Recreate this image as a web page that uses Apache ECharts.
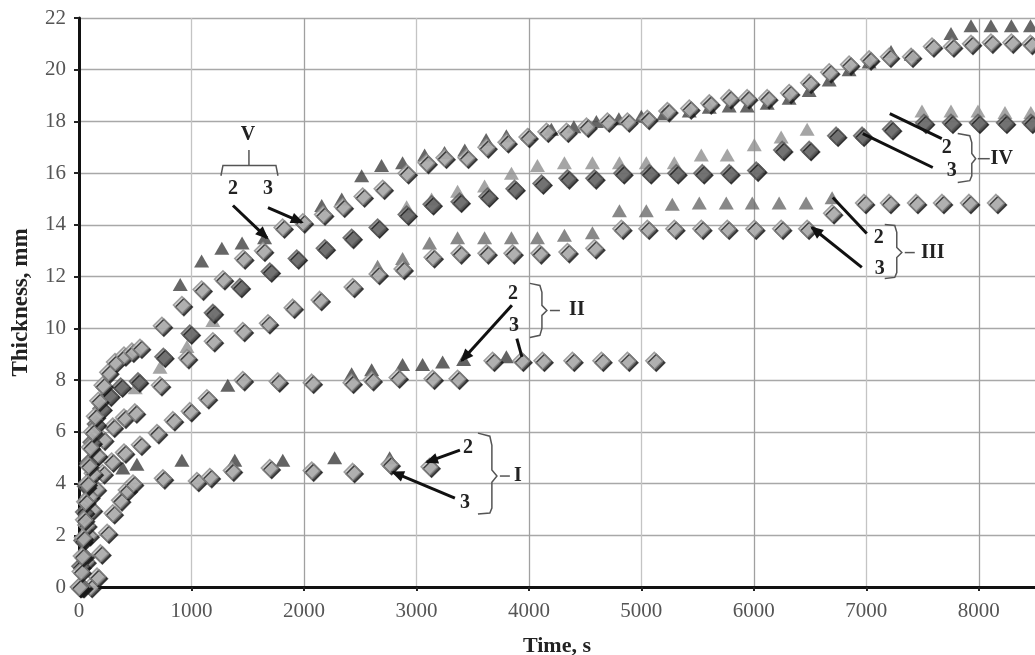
<!DOCTYPE html>
<html><head><meta charset="utf-8">
<script src="https://cdn.jsdelivr.net/npm/echarts@6/dist/echarts.min.js"></script>
<style>html,body{margin:0;padding:0;background:#fff}#c{width:1035px;height:655px}</style>
</head><body><div id="c"></div>
<script>
// ---- tick labels ----
const xTickValues = [0,1000,2000,3000,4000,5000,6000,7000,8000];
const yTickValues = [0,2,4,6,8,10,12,14,16,18,20,22];

// ---- data series [time s, thickness mm] ----
const vDiamonds = [[0,0],[15,0.6],[25,1.2],[35,1.9],[45,2.6],[55,3.3],[68,4.0],[82,4.7],[98,5.4],[118,6.0],[142,6.6],[172,7.2],[210,7.8],[260,8.3],[320,8.7],[400,8.95],[470,9.1],[542,9.25],[737,10.1],[915,10.9],[1090,11.5],[1280,11.9],[1460,12.7],[1636,13.0],[1810,13.9],[1990,14.1],[2170,14.4],[2345,14.7],[2522,15.1],[2700,15.4],[2913,16.0],[3090,16.4],[3250,16.6],[3446,16.6],[3623,17.0],[3801,17.2],[3988,17.4],[4156,17.6],[4334,17.6],[4512,17.8],[4698,18.0],[4876,18.0],[5053,18.1],[5231,18.4],[5426,18.5],[5604,18.7],[5781,18.9],[5941,18.9],[6119,18.9],[6314,19.1],[6492,19.5],[6670,19.9],[6847,20.2],[7025,20.4],[7202,20.5],[7398,20.5],[7584,20.9],[7762,20.9],[7931,21.0],[8108,21.05],[8290,21.05],[8460,21.0]];
const vTriangles = [[900,11.7],[1090,12.6],[1270,13.1],[1450,13.3],[1650,13.5],[2158,14.75],[2336,15.0],[2513,15.9],[2690,16.3],[2877,16.4],[3073,16.7],[3250,16.8],[3430,16.9],[3620,17.3],[3800,17.45],[4000,17.5],[4200,17.7],[4400,17.8],[4600,18.0],[4800,18.1],[5000,18.2],[5200,18.3],[5426,18.4],[5604,18.55],[5781,18.6],[5941,18.6],[6119,18.7],[6314,18.9],[6492,19.2],[6670,19.6],[6847,20.0],[7025,20.3],[7220,20.7],[7400,20.6],[7753,21.4],[7931,21.7],[8108,21.7],[8290,21.7],[8460,21.7]];
const ivDiamonds = [[0,0],[12,0.8],[30,1.8],[45,2.9],[62,3.9],[85,4.8],[112,5.6],[150,6.3],[200,6.9],[270,7.4],[370,7.75],[524,7.95],[750,8.9],[985,9.8],[1190,10.6],[1430,11.6],[1696,12.2],[1936,12.7],[2185,13.1],[2424,13.5],[2655,13.9],[2913,14.4],[3135,14.8],[3384,14.9],[3632,15.1],[3872,15.4],[4112,15.6],[4343,15.8],[4582,15.8],[4831,16.0],[5071,16.0],[5311,16.0],[5542,16.0],[5782,16.0],[6021,16.1],[6252,16.9],[6492,16.9],[6732,17.45],[6963,17.45],[7220,17.7],[7513,17.95],[7753,17.95],[7993,17.95],[8233,17.95],[8463,17.95]];
const ivTriangles = [[500,7.7],[720,8.5],[960,9.3],[1190,10.3],[2913,14.7],[3135,15.0],[3366,15.3],[3606,15.5],[3845,16.0],[4076,16.3],[4316,16.4],[4565,16.4],[4805,16.4],[5044,16.4],[5293,16.4],[5533,16.7],[5764,16.7],[6004,17.1],[6243,17.4],[6474,17.7],[7495,18.4],[7753,18.4],[7993,18.4],[8233,18.35],[8463,18.35]];
const iiiDiamonds = [[20,0],[42,1.2],[65,2.4],[92,3.5],[122,4.4],[160,5.1],[215,5.7],[300,6.2],[400,6.55],[497,6.75],[720,7.8],[960,8.85],[1190,9.5],[1456,9.9],[1680,10.2],[1900,10.8],[2140,11.1],[2433,11.6],[2655,12.1],[2877,12.3],[3144,12.75],[3384,12.9],[3623,12.9],[3854,12.9],[4094,12.9],[4343,12.95],[4582,13.1],[4822,13.85],[5053,13.85],[5293,13.85],[5533,13.85],[5764,13.85],[6004,13.85],[6243,13.85],[6474,13.85],[6696,14.45],[6980,14.85],[7202,14.85],[7442,14.85],[7673,14.85],[7913,14.85],[8153,14.85]];
const iiiTriangles = [[2655,12.4],[2877,12.7],[3117,13.3],[3366,13.5],[3606,13.5],[3845,13.5],[4076,13.5],[4316,13.6],[4565,13.7],[4805,14.55],[5044,14.55],[5275,14.8],[5515,14.85],[5755,14.85],[5986,14.85],[6225,14.85],[6465,14.85],[6696,15.05]];
const iiDiamonds = [[30,0],[58,1.0],[85,2.0],[115,3.0],[150,3.8],[210,4.4],[290,4.85],[400,5.2],[542,5.5],[693,5.95],[835,6.45],[985,6.8],[1137,7.3],[1456,8.0],[1767,7.95],[2069,7.9],[2424,7.9],[2602,8.0],[2833,8.1],[3144,8.05],[3366,8.05],[3677,8.75],[3934,8.75],[4121,8.75],[4387,8.75],[4645,8.75],[4876,8.75],[5115,8.75]];
const iiTriangles = [[1323,7.8],[2424,8.25],[2602,8.4],[2877,8.6],[3055,8.6],[3233,8.7],[3420,8.8],[3800,8.9]];
const iDiamonds = [[100,0],[160,0.4],[190,1.3],[250,2.1],[300,2.85],[365,3.35],[425,3.75],[480,4.0],[746,4.2],[1048,4.1],[1163,4.25],[1359,4.5],[1696,4.6],[2069,4.5],[2433,4.45],[2762,4.75],[3117,4.65]];
const iTriangles = [[390,4.6],[515,4.75],[915,4.9],[1385,4.9],[1812,4.9],[2273,5.0],[2762,5.0]];

// ---- annotations (data coordinates) ----
const annoTexts = [['V',1502,17.5],['2',1369,15.4],['3',1680,15.4],['2',3858,11.35],['3',3867,10.08],['II',4427,10.7],['2',3458,5.4],['3',3431,3.24],['I',3902,4.29],['2',7111,13.51],['3',7120,12.32],['III',7591,12.93],['2',7716,16.99],['3',7760,16.1],['IV',8204,16.56]];
const annoArrows = [[[1369,14.75],[1671,13.5],1],[[1680,14.67],[1982,14.1],1],[[3849,10.89],[3404,8.76],1],[[3893,9.6],[3938,8.9],0],[[3387,5.29],[3093,4.83],1],[[3342,3.44],[2791,4.44],1],[[7004,13.67],[6702,15.06],0],[[6960,12.36],[6516,13.9],1],[[7671,17.34],[7209,18.3],0],[[7591,16.22],[6969,17.53],0]];
const annoBrackets = [
  [[1262,15.9],[1280,16.3],[1751,16.3],[1769,15.9]],
  [[1511,16.3],[1511,16.9]],
  [[4009,11.74],[4098,11.66],[4116,11.39],[4116,10.89],[4160,10.69],[4116,10.5],[4116,10.0],[4098,9.73],[4009,9.65]],
  [[4187,10.69],[4276,10.69]],
  [[3547,5.95],[3653,5.83],[3671,5.48],[3671,4.52],[3716,4.29],[3671,4.05],[3671,3.05],[3653,2.86],[3547,2.82]],
  [[3742,4.29],[3831,4.29]],
  [[7164,14.02],[7253,13.98],[7271,13.71],[7271,13.13],[7316,12.93],[7271,12.74],[7271,12.16],[7253,11.97],[7164,11.93]],
  [[7342,12.93],[7431,12.93]],
  [[7813,17.53],[7920,17.45],[7938,17.18],[7938,16.76],[7973,16.56],[7938,16.37],[7938,15.9],[7920,15.71],[7813,15.64]],
  [[7991,16.56],[8098,16.56]]
];

const serif = 'Liberation Serif';
const chart = echarts.init(document.getElementById('c'), null, {renderer:'canvas'});

const lightDia = {color:'#c8c8c8', borderColor:'#8a8a8a', borderWidth:1.5, shadowColor:'rgba(25,25,25,0.95)', shadowBlur:0, shadowOffsetX:2, shadowOffsetY:2};
const darkDia = {color:'#7c7c7c', borderColor:'#5e5e5e', borderWidth:1.5, shadowColor:'rgba(20,20,20,0.95)', shadowBlur:0, shadowOffsetX:2, shadowOffsetY:2};
function tri(data, color){ return {type:'scatter', data, symbol:'triangle', symbolSize:[15,13], itemStyle:{color}, z:2, silent:true}; }
function dia(data, style){ return {type:'scatter', data, symbol:'diamond', symbolSize:17, itemStyle:style, z:3, silent:true}; }

const option = {
  animation:false,
  backgroundColor:'#fff',
  grid:{left:79, right:0, top:18, bottom:68, containLabel:false, outerBoundsMode:'none'},
  xAxis:{type:'value', min:0, max:8500, interval:500,
    name:'Time, s', nameLocation:'middle', nameGap:48,
    nameTextStyle:{fontFamily:serif, fontWeight:'bold', fontSize:22, color:'#222'},
    axisLine:{show:true, onZero:false, lineStyle:{color:'#111', width:3}},
    axisTick:{show:true, length:4, customValues:xTickValues, lineStyle:{color:'#222', width:2}},
    axisLabel:{customValues:xTickValues, formatter:v => String(v), margin:14, color:'#555', fontSize:21, fontFamily:serif},
    splitLine:{show:true, lineStyle:{color:['#a0a0a0','#c4c4c4'], width:1.3}}
  },
  yAxis:{type:'value', min:0, max:22, interval:1,
    name:'Thickness, mm', nameLocation:'middle', nameGap:46, nameRotate:90,
    nameTextStyle:{fontFamily:serif, fontWeight:'bold', fontSize:23, color:'#222'},
    axisLine:{show:true, lineStyle:{color:'#111', width:3}},
    axisTick:{show:true, length:5, customValues:yTickValues, lineStyle:{color:'#222', width:2}},
    axisLabel:{customValues:yTickValues, margin:13, color:'#555', fontSize:21, fontFamily:serif},
    splitLine:{show:true, lineStyle:{color:'#a8a8a8', width:1.3}}
  },
  series:[
    tri(iTriangles,'#3c3c3c'), tri(iiTriangles,'#3c3c3c'), tri(iiiTriangles,'#6a6a6a'),
    tri(ivTriangles,'#8e8e8e'), tri(vTriangles,'#404040'),
    dia(iDiamonds, lightDia), dia(iiDiamonds, lightDia), dia(iiiDiamonds, lightDia),
    dia(ivDiamonds, darkDia), dia(vDiamonds, lightDia)
  ]
};
chart.setOption(option);

function px(p){ return chart.convertToPixel({gridIndex:0}, p); }
const g = [];
annoBrackets.forEach(b => {
  g.push({type:'polyline', shape:{points:b.map(px)}, style:{stroke:'#555', lineWidth:1.5, fill:null}, z:10});
});
annoArrows.forEach(a => {
  const s = px(a[0]), e = px(a[1]);
  g.push({type:'line', shape:{x1:s[0],y1:s[1],x2:e[0],y2:e[1]}, style:{stroke:'#111', lineWidth:3}, z:10});
  if (a[2]) {
    const dx = e[0]-s[0], dy = e[1]-s[1], L = Math.hypot(dx,dy), ux = dx/L, uy = dy/L;
    const hl = 11, hw = 5.5;
    const bx = e[0]-ux*hl, by = e[1]-uy*hl;
    g.push({type:'polygon', shape:{points:[[e[0]+ux*2,e[1]+uy*2],[bx-uy*hw,by+ux*hw],[bx+uy*hw,by-ux*hw]]}, style:{fill:'#111'}, z:10});
  }
});
annoTexts.forEach(t => {
  const p = px([t[1],t[2]]);
  g.push({type:'text', x:p[0], y:p[1], style:{text:t[0], fontFamily:serif, fontWeight:'bold', fontSize:20, fill:'#222', align:'center', verticalAlign:'middle'}, z:11});
});
chart.setOption({graphic:g});
</script></body></html>
